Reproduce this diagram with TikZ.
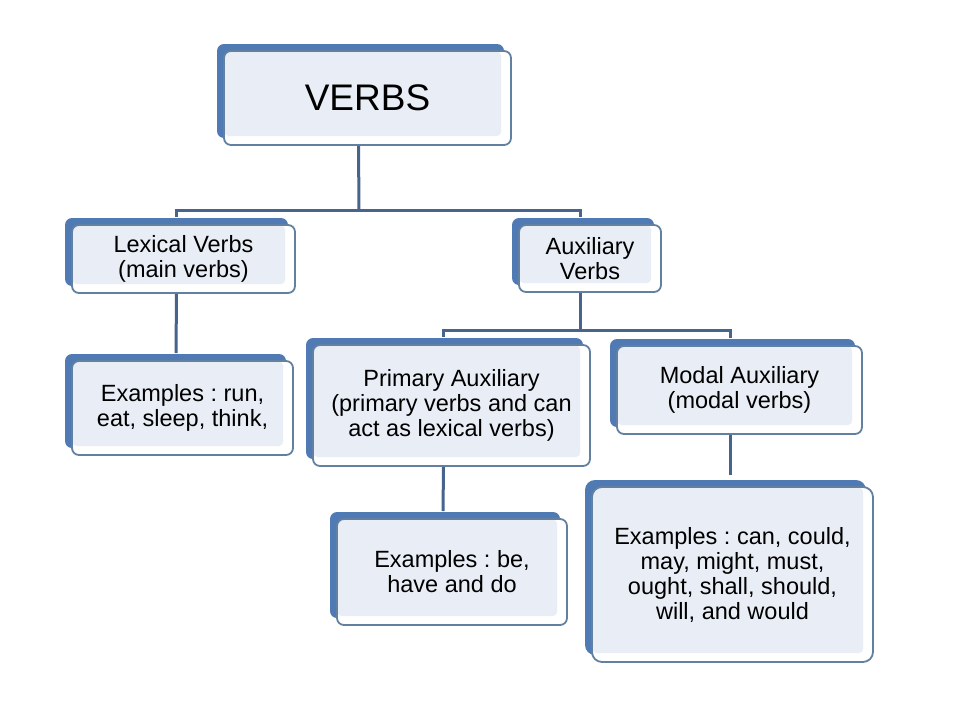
\documentclass[tikz,border=0pt]{standalone}
\usepackage{fontspec}
\setmainfont{Liberation Sans}
\usetikzlibrary{shadows}
\definecolor{shadowc}{HTML}{4F7AB3}
\definecolor{edgec}{HTML}{62809F}
\definecolor{fillc}{HTML}{E9EEF6}
\definecolor{connc}{HTML}{46648C}
\tikzset{
  box/.style={draw=edgec, line width=1.8pt, fill=white, rounded corners=7pt,
    align=center, inner sep=0pt,
    font=\fontsize{23.5}{25}\selectfont,
    general shadow={fill=shadowc, shadow xshift=-7pt, shadow yshift=7pt},
    path picture={\fill[fillc, rounded corners=4pt] ([xshift=0.5pt,yshift=-0.5pt]path picture bounding box.north west) rectangle ([xshift=-10pt,yshift=9pt]path picture bounding box.south east);}},
  conn/.style={draw=connc, line width=3pt}
}
\begin{document}
\frenchspacing
\begin{tikzpicture}[x=1pt,y=-1pt]
\useasboundingbox (0,0) rectangle (960,720);
\coordinate (bus1) at (359,210);
\coordinate (bus2) at (580,330);
\node[box, minimum width=287pt, minimum height=94pt, font=\fontsize{37}{40}\selectfont] (verbs) at (367.5,98) {VERBS};
\node[box, minimum width=223pt, minimum height=68pt] (lex) at (183.5,259) {Lexical Verbs\\(main verbs)};
\node[box, minimum width=142pt, minimum height=67pt] (aux) at (590,258.5) {Auxiliary\\Verbs};
\node[box, minimum width=221pt, minimum height=94pt] (exlex) at (182.5,408) {Examples : run,\\eat, sleep, think,};
\node[box, minimum width=277pt, minimum height=121pt] (prim) at (451.5,405.5) {Primary Auxiliary\\(primary verbs and can\\act as lexical verbs)};
\node[box, minimum width=245pt, minimum height=88pt] (modal) at (739.5,390) {Modal Auxiliary\\(modal verbs)};
\node[box, minimum width=230pt, minimum height=106pt] (exprim) at (452,572) {Examples : be,\\have and do};
\node[box, minimum width=281pt, minimum height=175pt, rounded corners=10pt] (exmod) at (732.5,574.5) {Examples : can, could,\\may, might, must,\\ought, shall, should,\\will, and would};
% connectors
\draw[conn] ([xshift=-9pt]verbs.south) -- (bus1);
\draw[conn] ([xshift=-7pt,yshift=7pt]lex.north) |- (bus1) -| ([xshift=-10pt,yshift=7pt]aux.north);
\draw[conn] ([xshift=-7pt]lex.south) -- ([xshift=-6.5pt,yshift=7pt]exlex.north);
\draw[conn] ([xshift=-10pt]aux.south) -- (bus2);
\draw[conn] ([xshift=-8pt,yshift=7pt]prim.north) |- (bus2) -| ([xshift=-9pt,yshift=7pt]modal.north);
\draw[conn] ([xshift=-8pt]prim.south) -- ([xshift=-9pt,yshift=7pt]exprim.north);
\draw[conn] ([xshift=-9pt]modal.south) -- ([xshift=-2pt,yshift=11pt]exmod.north);
\end{tikzpicture}
\end{document}
